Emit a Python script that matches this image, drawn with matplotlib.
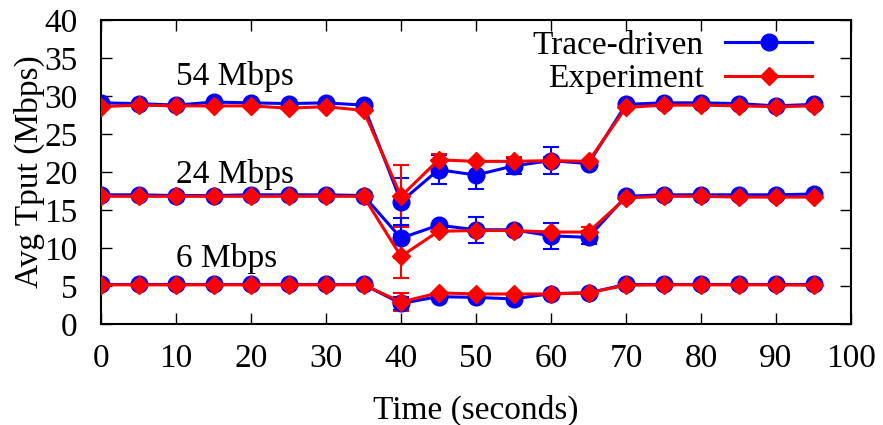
import numpy as np
import matplotlib
matplotlib.use("Agg")
import matplotlib.pyplot as plt

plt.rcParams['font.family'] = ['Liberation Serif', 'DejaVu Serif']

time = [0, 5, 10, 15, 20, 25, 30, 35, 40, 45, 50, 55, 60, 65, 70, 75, 80, 85, 90, 95]

trace_54 = [29.1, 29.0, 28.8, 29.2, 29.1, 29.0, 29.1, 28.8, 16.1, 20.3, 19.6, 20.8, 21.5, 21.1,
            28.9, 29.1, 29.1, 29.0, 28.7, 28.9]
exp_54 = [28.6, 28.8, 28.7, 28.7, 28.7, 28.4, 28.6, 28.1, 16.8, 21.6, 21.4, 21.4, 21.5, 21.4,
          28.5, 28.8, 28.8, 28.7, 28.6, 28.7]
trace_54_err = [0, 0, 0, 0, 0, 0, 0, 0, 3.1, 1.9, 1.9, 1.0, 1.8, 0, 0, 0, 0, 0, 0, 0]
exp_54_err = [0, 0, 0, 0, 0, 0, 0, 0, 4.1, 0.8, 0, 0.6, 0.5, 0, 0, 0, 0, 0, 0, 0]

trace_24 = [17.0, 17.0, 16.9, 16.9, 17.0, 17.0, 17.0, 16.9, 11.3, 13.0, 12.4, 12.4, 11.6, 11.4,
            16.8, 17.0, 17.0, 17.0, 17.0, 17.1]
exp_24 = [16.8, 16.8, 16.8, 16.8, 16.8, 16.8, 16.8, 16.8, 8.9, 12.2, 12.3, 12.3, 12.1, 12.1,
          16.6, 16.8, 16.8, 16.7, 16.7, 16.7]
trace_24_err = [0, 0, 0, 0, 0, 0, 0, 0, 2.6, 0, 1.7, 0, 1.7, 0.9, 0, 0, 0, 0, 0, 0]
exp_24_err = [0, 0, 0, 0, 0, 0, 0, 0, 2.9, 0, 0, 0, 0, 0.6, 0, 0, 0, 0, 0, 0]

trace_6 = [5.2, 5.2, 5.2, 5.2, 5.2, 5.2, 5.2, 5.2, 2.7, 3.6, 3.5, 3.3, 4.0, 4.1,
           5.2, 5.2, 5.2, 5.2, 5.2, 5.2]
exp_6 = [5.15, 5.15, 5.15, 5.15, 5.15, 5.15, 5.15, 5.15, 2.9, 4.1, 3.95, 3.95, 3.95, 4.1,
         5.1, 5.15, 5.15, 5.15, 5.15, 5.1]
trace_6_err = [0, 0, 0, 0, 0, 0, 0, 0, 0.8, 0, 0, 0, 0, 0, 0, 0, 0, 0, 0, 0]
exp_6_err = [0, 0, 0, 0, 0, 0, 0, 0, 1.2, 0, 0, 0, 0, 0, 0, 0, 0, 0, 0, 0]

rate_labels = ["54 Mbps", "24 Mbps", "6 Mbps"]
rate_label_x = [10, 10, 10]
rate_label_y = [31.4, 18.5, 7.5]

fig = plt.figure(figsize=(8.83, 4.25), dpi=100)
ax = fig.add_axes([101/883, 1 - 324/425, 750/883, 304/425])

blue = '#0000ff'
red = '#ff0000'
x = np.array(time)

def draw(vals, errs, color, marker, ms, label=None):
    vals = np.array(vals)
    errs = np.array(errs)
    m = errs > 0
    ax.errorbar(x[m], vals[m], yerr=errs[m], fmt='none', ecolor=color, elinewidth=1.5,
                capsize=6, capthick=1.5, zorder=2)
    ax.plot(x, vals, color=color, lw=2.2, marker=marker, ms=ms, label=label, zorder=3)

draw(trace_54, trace_54_err, blue, 'o', 12, 'Trace-driven')
draw(exp_54, exp_54_err, red, 'D', 9, 'Experiment')
draw(trace_24, trace_24_err, blue, 'o', 12)
draw(exp_24, exp_24_err, red, 'D', 9)
draw(trace_6, trace_6_err, blue, 'o', 12)
draw(exp_6, exp_6_err, red, 'D', 9)

for lab, xx, yy in zip(rate_labels, rate_label_x, rate_label_y):
    ax.text(xx, yy, lab, fontsize=24, ha='left', va='baseline')

ax.set_xlim(0, 100)
ax.set_ylim(0, 40)
ax.set_xticks(range(0, 101, 10))
ax.set_yticks(range(0, 41, 5))
ax.tick_params(direction='in', length=8, width=1, labelsize=24, pad=14,
               top=True, right=True)
ax.tick_params(axis='y', pad=17)
for s in ax.spines.values():
    s.set_linewidth(1.5)
ax.set_xlabel("Time (seconds)", fontsize=24, labelpad=15)
ax.set_ylabel("Avg Tput (Mbps)", fontsize=24, labelpad=-1)

leg = ax.legend(loc='upper right', bbox_to_anchor=(812/883, 1 - 30/425),
                bbox_transform=fig.transFigure, frameon=False, fontsize=24,
                markerfirst=False, handlelength=2.6, handletextpad=0.65, labelspacing=0.1,
                borderaxespad=0.0, borderpad=0.0)

fig.savefig("out.png", dpi=100)
